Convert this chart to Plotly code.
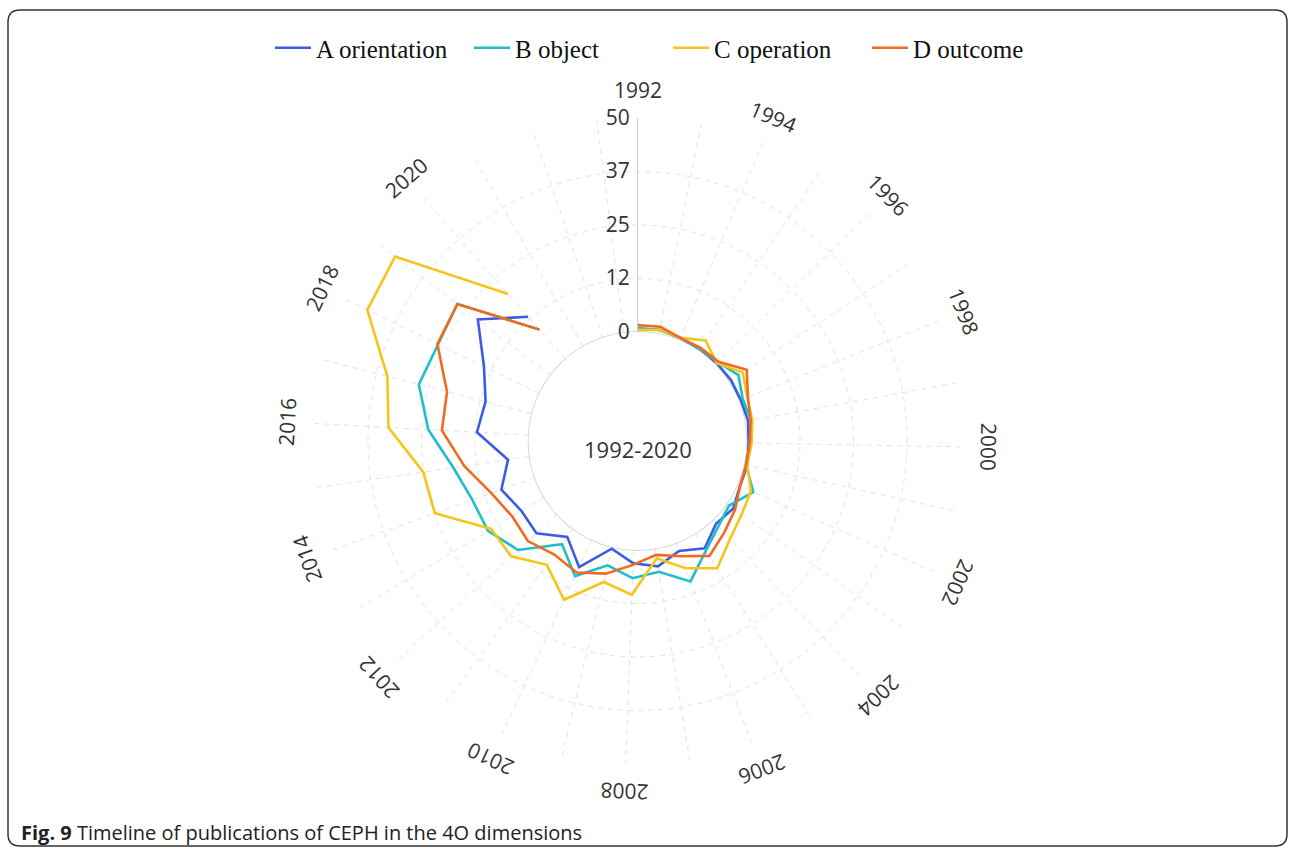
import numpy as np
import plotly.graph_objects as go

# ---------------- data ----------------
years = list(range(1992, 2021))
series_names = ["A orientation", "B object", "C operation", "D outcome"]
a_orientation = [0.8, 1.0, 0.6, 0.5, 0.5, 0.6, 0.5, 0.8, 0.5, 0.8, 0.7, 1.9, 1.2, 4.1, 2.0,
                 4.2, 3.1, 0.4, 7.0, 2.3, 6.5, 6.2, 8.3, 5.1, 12.1, 11.2, 14.4, 21.4, 13.2]
b_object = [0.9, 1.0, 0.7, 0.5, 0.8, 2.7, 1.0, 1.5, 0.8, 0.5, 4.1, 0.7, 2.0, 4.7, 9.6,
            5.5, 6.6, 4.4, 9.3, 4.4, 12.3, 15.3, 15.5, 18.0, 23.5, 27.3, 26.3, 27.4, 9.2]
c_operation = [0.5, 1.0, 0.7, 2.9, 0.5, 3.9, 2.1, 1.8, 1.2, 0.8, 3.5, 4.3, 6.0, 9.6, 6.3,
               2.3, 10.5, 8.4, 15.4, 10.4, 14.5, 14.4, 24.8, 25.1, 32.8, 34.9, 44.7, 45.7, 20.3]
d_outcome = [1.6, 1.75, 0.6, 0.8, 1.0, 5.0, 2.3, 1.4, 0.8, 0.5, 0.7, 2.4, 4.0, 6.2, 3.3,
             1.5, 3.5, 6.4, 8.4, 7.4, 9.2, 8.7, 10.8, 15.4, 20.3, 20.5, 26.5, 27.4, 9.2]
colors = ["#3b5ce4", "#1dbfc8", "#f6c41a", "#f26a1f"]

radial_ticks = [0, 12.5, 25, 37.5, 50]
radial_ticktext = ["0", "12", "25", "37", "50"]
label_years = list(range(1992, 2021, 2))
grid_years = list(range(1992, 2024))
center_text = "1992-2020"
caption = "<b>Fig. 9</b> Timeline of publications of CEPH in the 4O dimensions"

# ---------------- layout constants ----------------
W, H = 1295, 855
CX, CY, R = 637.5, 441.0, 323.0   # polar centre / outer radius in px
DEG_PER_YEAR = 11.38              # angular spacing of one year
LABEL_R = 351.0

def theta_of(y):
    return (y - 1992) * DEG_PER_YEAR

fig = go.Figure()

# inner (hole) circle
ring_theta = np.linspace(0, 360, 361)
fig.add_trace(go.Scatterpolar(r=np.zeros_like(ring_theta), theta=ring_theta, mode="lines",
                              line=dict(color="#d0d0d0", width=1.5), hoverinfo="skip",
                              showlegend=False))

for name, vals, col in zip(series_names, [a_orientation, b_object, c_operation, d_outcome], colors):
    fig.add_trace(go.Scatterpolar(r=vals, theta=[theta_of(y) for y in years], mode="lines",
                                  name=name, line=dict(color=col, width=2.6)))

dom_x = [(CX - R) / W, (CX + R) / W]
dom_y = [(H - CY - R) / H, (H - CY + R) / H]

tick_font = dict(family="Open Sans, Noto Sans, sans-serif", size=21, color="#333333")
grid_col = "#e2e2e2"

fig.update_layout(
    width=W, height=H,
    margin=dict(l=0, r=0, t=0, b=0),
    paper_bgcolor="white",
    polar=dict(
        domain=dict(x=dom_x, y=dom_y),
        hole=109.0 / R,
        bgcolor="white",
        radialaxis=dict(range=[0, 50], tickmode="array", tickvals=radial_ticks,
                        ticktext=radial_ticktext, angle=90, side="counterclockwise",
                        tickangle=90, showline=True, linecolor="#cccccc", linewidth=1,
                        ticks="", gridcolor=grid_col, griddash="5px,5px", gridwidth=1,
                        tickfont=tick_font),
        angularaxis=dict(rotation=90, direction="clockwise", thetaunit="degrees",
                         tickmode="array", tickvals=[theta_of(y) for y in grid_years],
                         showticklabels=False, ticks="", showline=False,
                         gridcolor=grid_col, griddash="5px,5px", gridwidth=1),
    ),
    legend=dict(orientation="h", x=270 / W, xanchor="left", y=1 - 48 / H, yanchor="middle",
                font=dict(family="Liberation Serif, Times New Roman, serif", size=25, color="#111111"),
                entrywidth=148, entrywidthmode="pixels", itemwidth=36,
                bgcolor="rgba(0,0,0,0)", itemclick=False),
    showlegend=True,
)

annotations = []
for y in label_years:
    th = theta_of(y)
    rad = np.deg2rad(th)
    px = CX + LABEL_R * np.sin(rad)
    py = CY - LABEL_R * np.cos(rad)
    ta = ((th + 180) % 360) - 180
    annotations.append(dict(x=px / W, y=1 - py / H, xref="paper", yref="paper",
                            text=str(y), showarrow=False, textangle=ta,
                            xanchor="center", yanchor="middle", font=tick_font))
annotations.append(dict(x=CX / W, y=1 - (CY + 8) / H, xref="paper", yref="paper",
                        text=center_text, showarrow=False, xanchor="center", yanchor="middle",
                        font=dict(family="Open Sans, Noto Sans, sans-serif", size=22, color="#333333")))
annotations.append(dict(x=19 / W, y=1 - 832 / H, xref="paper", yref="paper", text=caption,
                        showarrow=False, xanchor="left", yanchor="middle",
                        font=dict(family="Open Sans, Noto Sans, sans-serif", size=20, color="#222222")))
fig.update_layout(annotations=annotations)

# rounded border
x0, x1 = 8 / W, 1287 / W
y0, y1 = 1 - 846 / H, 1 - 10 / H
rx, ry = 12 / W, 12 / H
path = (f"M {x0+rx},{y1} L {x1-rx},{y1} Q {x1},{y1} {x1},{y1-ry} L {x1},{y0+ry} "
        f"Q {x1},{y0} {x1-rx},{y0} L {x0+rx},{y0} Q {x0},{y0} {x0},{y0+ry} "
        f"L {x0},{y1-ry} Q {x0},{y1} {x0+rx},{y1} Z")
fig.add_shape(type="path", path=path, xref="paper", yref="paper",
              line=dict(color="#333333", width=1.5))

fig.write_html("out.html", config={"displayModeBar": False},
               post_script="document.body.style.margin='0px';")
